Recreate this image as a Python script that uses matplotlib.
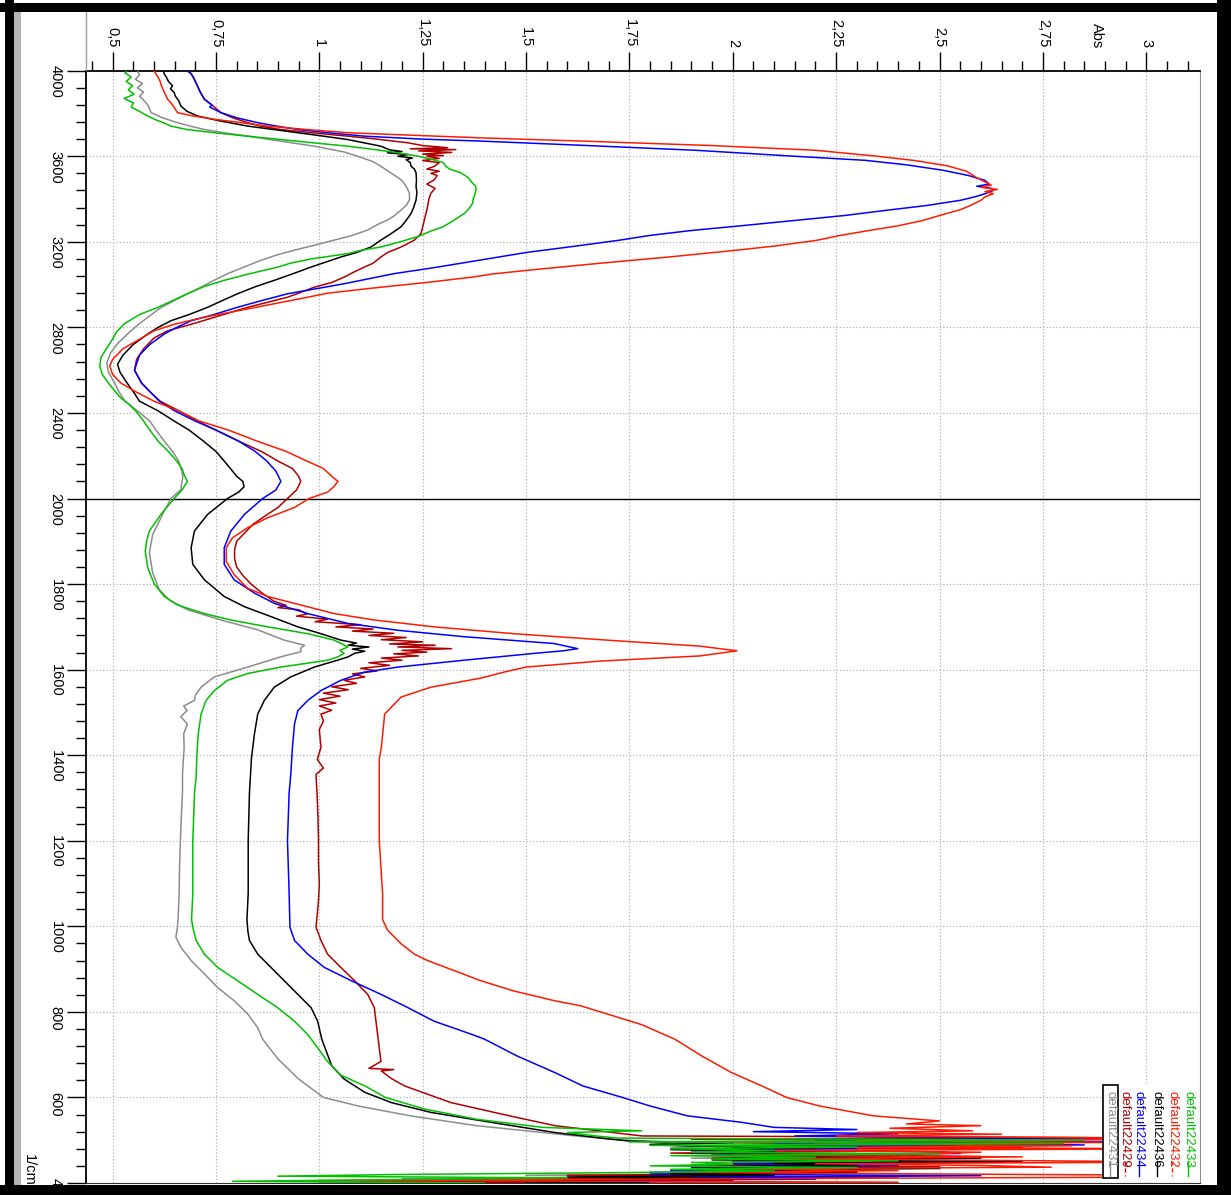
import numpy as np
import matplotlib.pyplot as plt
from matplotlib.ticker import FixedLocator
from matplotlib.lines import Line2D
from matplotlib.patches import Rectangle

plt.rcParams['font.family'] = ['Liberation Sans Narrow', 'Liberation Sans', 'DejaVu Sans']

# ==============================
# SPECTRA: (wavenumber 1/cm, absorbance)
# ==============================
green = [(4000, 0.535), (3990, 0.530), (3970, 0.545), (3950, 0.533), (3930, 0.548), (3910, 0.538), (3890, 0.552),
         (3870, 0.528), (3850, 0.550), (3830, 0.545), (3810, 0.565), (3788, 0.585), (3770, 0.605), (3755, 0.625),
         (3741, 0.641), (3725, 0.680), (3710, 0.746), (3695, 0.820), (3678, 0.907), (3660, 1.000), (3647, 1.069),
         (3630, 1.140), (3616, 1.190), (3600, 1.240), (3584, 1.275), (3570, 1.300), (3555, 1.305), (3540, 1.315),
         (3522, 1.343), (3500, 1.360), (3480, 1.368), (3460, 1.378), (3443, 1.379), (3420, 1.376), (3400, 1.372),
         (3380, 1.371), (3350, 1.360), (3333, 1.351), (3300, 1.325), (3271, 1.300), (3250, 1.270), (3224, 1.238),
         (3200, 1.195), (3176, 1.149), (3160, 1.100), (3145, 1.069), (3120, 0.980), (3100, 0.930), (3082, 0.900),
         (3050, 0.830), (3020, 0.770), (2990, 0.720), (2957, 0.680), (2925, 0.645), (2894, 0.610), (2860, 0.565),
         (2816, 0.528), (2780, 0.510), (2745, 0.500), (2700, 0.485), (2660, 0.472), (2620, 0.469), (2580, 0.475),
         (2540, 0.490), (2503, 0.505), (2470, 0.520), (2440, 0.540), (2400, 0.560), (2362, 0.575), (2320, 0.590),
         (2268, 0.610), (2220, 0.635), (2175, 0.655), (2140, 0.668), (2110, 0.673), (2080, 0.681), (2040, 0.668),
         (2000, 0.649), (1963, 0.617), (1924, 0.589), (1900, 0.582), (1877, 0.579), (1838, 0.585), (1800, 0.601),
         (1771, 0.625), (1751, 0.657), (1731, 0.722), (1716, 0.786), (1700, 0.875), (1684, 0.972), (1669, 1.036),
         (1660, 1.055), (1653, 1.069), (1645, 1.050), (1638, 1.060), (1630, 1.045), (1622, 1.020), (1606, 0.907),
         (1591, 0.827), (1575, 0.778), (1551, 0.746), (1528, 0.726), (1496, 0.714), (1449, 0.707), (1402, 0.704),
         (1347, 0.702), (1312, 0.698), (1250, 0.696), (1200, 0.694), (1140, 0.694), (1077, 0.694), (1016, 0.691),
         (998, 0.694), (967, 0.702), (935, 0.722), (904, 0.754), (873, 0.802), (841, 0.851), (810, 0.899),
         (778, 0.940), (747, 0.972), (716, 0.996), (684, 1.020), (653, 1.050), (627, 1.110), (600, 1.160),
         (573, 1.254), (549, 1.380), (530, 1.540), (522, 1.780), (518, 1.600), (510, 1.670), (505, 1.720),
         (500, 2.850), (496, 1.750), (492, 2.800), (488, 1.800), (484, 2.300), (480, 1.850), (476, 2.100),
         (472, 1.900), (468, 2.500), (464, 1.850), (460, 2.200), (456, 1.950), (452, 2.400), (448, 1.900),
         (444, 2.000), (440, 1.800), (436, 2.300), (432, 1.850), (428, 2.100), (424, 1.700), (420, 1.200),
         (416, 0.900), (412, 1.600), (408, 1.200), (404, 0.790), (400, 1.400)]

grey = [(4000, 0.560), (3980, 0.565), (3960, 0.555), (3940, 0.572), (3920, 0.560), (3900, 0.575), (3880, 0.565),
        (3867, 0.573), (3840, 0.585), (3820, 0.590), (3804, 0.593), (3780, 0.620), (3757, 0.657), (3740, 0.690),
        (3725, 0.722), (3710, 0.770), (3694, 0.827), (3670, 0.910), (3647, 0.988), (3620, 1.060), (3600, 1.093),
        (3575, 1.130), (3553, 1.149), (3520, 1.175), (3490, 1.198), (3460, 1.210), (3427, 1.218), (3396, 1.218),
        (3370, 1.210), (3349, 1.198), (3320, 1.180), (3302, 1.165), (3280, 1.140), (3255, 1.117), (3230, 1.080),
        (3208, 1.036), (3185, 0.990), (3161, 0.940), (3140, 0.900), (3114, 0.859), (3080, 0.815), (3051, 0.778),
        (3020, 0.745), (2988, 0.714), (2960, 0.685), (2925, 0.649), (2890, 0.615), (2847, 0.585), (2810, 0.560),
        (2769, 0.536), (2720, 0.510), (2680, 0.495), (2633, 0.486), (2590, 0.490), (2540, 0.505), (2500, 0.515),
        (2455, 0.530), (2410, 0.560), (2362, 0.590), (2320, 0.605), (2268, 0.625), (2220, 0.645), (2175, 0.660),
        (2130, 0.667), (2100, 0.670), (2080, 0.668), (2041, 0.665), (2000, 0.641), (1963, 0.621), (1916, 0.597),
        (1873, 0.589), (1826, 0.597), (1787, 0.613), (1763, 0.637), (1740, 0.681), (1716, 0.762), (1693, 0.851),
        (1669, 0.915), (1657, 0.964), (1650, 0.955), (1642, 0.956), (1630, 0.907), (1606, 0.827), (1583, 0.746),
        (1559, 0.714), (1540, 0.700), (1528, 0.698), (1515, 0.672), (1504, 0.680), (1490, 0.665), (1473, 0.681),
        (1450, 0.672), (1418, 0.673), (1355, 0.669), (1312, 0.669), (1250, 0.666), (1200, 0.664), (1140, 0.662),
        (1077, 0.661), (1030, 0.659), (998, 0.657), (975, 0.653), (951, 0.665), (920, 0.690), (889, 0.722),
        (857, 0.754), (826, 0.794), (795, 0.827), (763, 0.851), (736, 0.863), (690, 0.900), (643, 0.950),
        (600, 1.010), (580, 1.094), (557, 1.220), (534, 1.380), (518, 1.540), (510, 1.620), (503, 1.700),
        (498, 1.780), (494, 1.850), (490, 1.800), (486, 1.950), (482, 1.850), (478, 2.000), (474, 1.900),
        (470, 2.100), (466, 1.950), (462, 2.200), (458, 1.900), (454, 2.300), (450, 2.000), (446, 2.400),
        (442, 1.950), (438, 2.200), (434, 1.900), (430, 2.100), (426, 1.800), (422, 2.000), (418, 1.500),
        (414, 1.900), (410, 1.200), (406, 1.700), (402, 1.000), (400, 1.300)]

black = [(4000, 0.623), (3985, 0.625), (3970, 0.630), (3950, 0.635), (3930, 0.645), (3915, 0.640), (3898, 0.649),
         (3880, 0.652), (3860, 0.660), (3835, 0.665), (3810, 0.680), (3788, 0.706), (3765, 0.760), (3741, 0.827),
         (3725, 0.890), (3710, 0.948), (3694, 1.010), (3678, 1.069), (3660, 1.115), (3647, 1.149), (3630, 1.170),
         (3622, 1.200), (3616, 1.165), (3608, 1.215), (3600, 1.190), (3592, 1.225), (3584, 1.210), (3570, 1.220),
         (3553, 1.222), (3540, 1.230), (3522, 1.234), (3490, 1.235), (3459, 1.234), (3430, 1.236), (3396, 1.234),
         (3360, 1.228), (3333, 1.222), (3300, 1.210), (3271, 1.198), (3240, 1.175), (3208, 1.149), (3176, 1.125),
         (3150, 1.090), (3129, 1.052), (3105, 1.015), (3082, 0.980), (3050, 0.935), (3020, 0.891), (2990, 0.845),
         (2957, 0.802), (2925, 0.765), (2894, 0.730), (2860, 0.685), (2831, 0.641), (2800, 0.610), (2769, 0.585),
         (2720, 0.550), (2670, 0.525), (2628, 0.512), (2590, 0.518), (2540, 0.535), (2500, 0.550), (2455, 0.565),
         (2410, 0.610), (2362, 0.649), (2320, 0.685), (2268, 0.720), (2220, 0.750), (2175, 0.770), (2140, 0.785),
         (2104, 0.800), (2080, 0.815), (2055, 0.818), (2030, 0.805), (2000, 0.778), (1963, 0.730), (1924, 0.698),
         (1885, 0.690), (1846, 0.694), (1810, 0.722), (1771, 0.770), (1747, 0.819), (1724, 0.883), (1700, 0.948),
         (1684, 1.004), (1669, 1.052), (1662, 1.090), (1657, 1.070), (1653, 1.120), (1648, 1.080), (1643, 1.110),
         (1638, 1.085), (1630, 1.070), (1622, 1.044), (1606, 0.988), (1583, 0.931), (1559, 0.891), (1528, 0.867),
         (1496, 0.851), (1449, 0.843), (1394, 0.836), (1312, 0.831), (1200, 0.828), (1077, 0.828), (1016, 0.825),
         (990, 0.827), (967, 0.831), (935, 0.851), (904, 0.883), (873, 0.915), (841, 0.948), (810, 0.980),
         (778, 0.996), (736, 1.006), (700, 1.020), (674, 1.030), (643, 1.060), (612, 1.110), (588, 1.174),
         (565, 1.270), (542, 1.414), (518, 1.570), (503, 1.700), (498, 1.750), (494, 2.000), (490, 1.800),
         (486, 1.900), (482, 2.200), (478, 1.850), (474, 2.100), (470, 1.900), (466, 2.350), (462, 2.000),
         (458, 2.600), (454, 1.950), (450, 2.700), (446, 2.100), (442, 2.300), (438, 1.900), (434, 2.500),
         (430, 2.000), (426, 2.300), (422, 1.850), (418, 2.100), (414, 1.600), (410, 2.000), (406, 1.300),
         (402, 1.900), (400, 1.500)]

blue = [(4000, 0.680), (3985, 0.690), (3970, 0.695), (3950, 0.700), (3930, 0.705), (3900, 0.712), (3867, 0.722),
        (3840, 0.740), (3830, 0.735), (3804, 0.762), (3780, 0.800), (3757, 0.851), (3740, 0.900), (3725, 0.948),
        (3710, 1.020), (3694, 1.109), (3680, 1.250), (3671, 1.390), (3650, 1.650), (3628, 1.910), (3600, 2.150),
        (3581, 2.320), (3560, 2.420), (3534, 2.510), (3510, 2.570), (3487, 2.610), (3470, 2.620), (3460, 2.590),
        (3450, 2.625), (3440, 2.630), (3425, 2.610), (3410, 2.585), (3394, 2.550), (3370, 2.470), (3347, 2.370),
        (3323, 2.270), (3300, 2.150), (3275, 2.020), (3253, 1.900), (3230, 1.800), (3206, 1.720), (3180, 1.620),
        (3150, 1.500), (3112, 1.380), (3080, 1.280), (3051, 1.180), (3004, 1.060), (2957, 0.923), (2925, 0.860),
        (2894, 0.802), (2860, 0.745), (2831, 0.690), (2800, 0.655), (2769, 0.625), (2720, 0.590), (2670, 0.565),
        (2600, 0.553), (2540, 0.570), (2500, 0.590), (2455, 0.613), (2410, 0.650), (2362, 0.700), (2320, 0.750),
        (2268, 0.805), (2220, 0.845), (2175, 0.873), (2128, 0.895), (2080, 0.907), (2040, 0.895), (2000, 0.863),
        (1963, 0.819), (1924, 0.786), (1885, 0.770), (1846, 0.770), (1810, 0.794), (1779, 0.843), (1755, 0.891),
        (1731, 0.972), (1708, 1.069), (1692, 1.190), (1677, 1.350), (1661, 1.568), (1652, 1.610), (1649, 1.625),
        (1644, 1.590), (1638, 1.520), (1622, 1.350), (1606, 1.190), (1594, 1.109), (1575, 1.052), (1551, 1.004),
        (1528, 0.972), (1504, 0.948), (1473, 0.940), (1418, 0.935), (1355, 0.931), (1312, 0.927), (1200, 0.923),
        (1077, 0.927), (998, 0.929), (967, 0.940), (935, 0.972), (904, 1.012), (873, 1.077), (841, 1.149),
        (810, 1.214), (778, 1.278), (747, 1.370), (736, 1.400), (716, 1.440), (697, 1.478), (658, 1.570),
        (627, 1.637), (600, 1.733), (580, 1.800), (557, 1.890), (542, 2.020), (530, 2.100), (525, 2.300),
        (520, 2.050), (515, 2.400), (510, 2.150), (506, 2.600), (504, 3.120), (501, 2.200), (497, 2.900),
        (493, 2.100), (489, 2.850), (485, 2.000), (481, 2.300), (477, 1.900), (473, 2.500), (469, 2.550),
        (465, 1.950), (461, 2.400), (457, 2.000), (453, 2.300), (449, 2.650), (445, 2.000), (441, 2.400),
        (437, 1.900), (433, 2.200), (429, 1.850), (425, 2.300), (421, 1.800), (417, 2.600), (413, 1.900),
        (409, 2.200), (405, 1.300), (401, 1.900), (400, 1.600)]

red = [(4000, 0.600), (3985, 0.605), (3970, 0.610), (3950, 0.615), (3930, 0.618), (3900, 0.625), (3867, 0.633),
       (3840, 0.645), (3804, 0.657), (3790, 0.690), (3773, 0.746), (3757, 0.810), (3741, 0.875), (3725, 0.970),
       (3710, 1.069), (3700, 1.200), (3686, 1.390), (3670, 1.650), (3650, 1.950), (3628, 2.200), (3600, 2.350),
       (3580, 2.440), (3555, 2.520), (3530, 2.565), (3500, 2.590), (3480, 2.610), (3465, 2.625), (3455, 2.600),
       (3445, 2.640), (3435, 2.610), (3425, 2.630), (3410, 2.610), (3394, 2.600), (3370, 2.575), (3350, 2.550),
       (3323, 2.500), (3300, 2.460), (3275, 2.400), (3253, 2.330), (3230, 2.260), (3206, 2.200), (3180, 2.100),
       (3159, 2.000), (3130, 1.850), (3100, 1.680), (3070, 1.520), (3050, 1.420), (3035, 1.370), (3010, 1.260),
       (2988, 1.149), (2960, 1.020), (2941, 0.972), (2910, 0.890), (2880, 0.810), (2847, 0.720), (2815, 0.650),
       (2784, 0.600), (2750, 0.570), (2700, 0.525), (2650, 0.500), (2620, 0.493), (2580, 0.500), (2540, 0.520),
       (2500, 0.555), (2455, 0.600), (2410, 0.660), (2362, 0.710), (2320, 0.780), (2268, 0.850), (2220, 0.920),
       (2175, 0.970), (2140, 1.010), (2104, 1.030), (2080, 1.045), (2055, 1.035), (2030, 1.020), (2000, 0.975),
       (1979, 0.940), (1955, 0.875), (1932, 0.827), (1908, 0.790), (1885, 0.775), (1853, 0.775), (1822, 0.794),
       (1790, 0.827), (1771, 0.875), (1747, 0.972), (1731, 1.036), (1716, 1.133), (1700, 1.278), (1684, 1.470),
       (1667, 1.726), (1655, 1.920), (1644, 2.010), (1632, 1.920), (1620, 1.680), (1606, 1.500), (1595, 1.450),
       (1580, 1.390), (1559, 1.270), (1536, 1.198), (1496, 1.158), (1418, 1.150), (1391, 1.145), (1300, 1.145),
       (1200, 1.145), (1077, 1.153), (1016, 1.153), (991, 1.165), (959, 1.198), (935, 1.230), (920, 1.262),
       (896, 1.327), (873, 1.390), (849, 1.470), (826, 1.569), (814, 1.633), (800, 1.680), (770, 1.780),
       (736, 1.860), (697, 1.925), (658, 1.997), (627, 2.070), (600, 2.130), (580, 2.210), (557, 2.340),
       (545, 2.500), (538, 2.420), (534, 2.600), (528, 2.380), (522, 2.580), (518, 2.300), (514, 2.650),
       (510, 2.250), (506, 2.850), (503, 3.120), (499, 2.300), (495, 2.950), (491, 2.200), (487, 2.820),
       (483, 2.300), (480, 3.120), (476, 2.100), (472, 2.600), (469, 2.500), (465, 2.000), (461, 2.700),
       (457, 2.100), (453, 2.600), (449, 3.120), (445, 2.200), (441, 2.600), (437, 2.770), (433, 2.000),
       (429, 2.400), (425, 1.900), (421, 2.500), (418, 3.120), (414, 3.120), (410, 2.000), (406, 1.000),
       (402, 2.400), (400, 1.800)]

dark_red = [(4000, 0.685), (3985, 0.690), (3970, 0.695), (3950, 0.700), (3930, 0.705), (3900, 0.712), (3867, 0.722),
            (3840, 0.740), (3804, 0.762), (3780, 0.790), (3757, 0.827), (3740, 0.860), (3725, 0.907), (3710, 0.980),
            (3694, 1.069), (3680, 1.140), (3663, 1.214), (3650, 1.250), (3640, 1.310), (3635, 1.220), (3631, 1.330),
            (3625, 1.240), (3618, 1.320), (3610, 1.250), (3603, 1.300), (3600, 1.260), (3590, 1.290), (3580, 1.250),
            (3570, 1.290), (3553, 1.278), (3540, 1.260), (3530, 1.290), (3520, 1.270), (3510, 1.285), (3490, 1.278),
            (3470, 1.260), (3450, 1.280), (3427, 1.270), (3400, 1.265), (3365, 1.262), (3302, 1.254), (3239, 1.246),
            (3208, 1.230), (3176, 1.198), (3150, 1.165), (3129, 1.149), (3100, 1.130), (3082, 1.109), (3060, 1.085),
            (3035, 1.060), (3010, 1.030), (2988, 0.988), (2960, 0.950), (2941, 0.923), (2920, 0.880), (2894, 0.827),
            (2870, 0.785), (2847, 0.746), (2820, 0.700), (2784, 0.633), (2750, 0.600), (2700, 0.575), (2650, 0.558),
            (2600, 0.553), (2540, 0.570), (2500, 0.590), (2455, 0.615), (2410, 0.660), (2362, 0.705), (2320, 0.750),
            (2268, 0.805), (2220, 0.860), (2175, 0.900), (2140, 0.935), (2104, 0.950), (2080, 0.955), (2040, 0.945),
            (2000, 0.923), (1979, 0.900), (1960, 0.870), (1940, 0.840), (1920, 0.820), (1900, 0.800), (1880, 0.795),
            (1860, 0.795), (1840, 0.800), (1820, 0.815), (1800, 0.835), (1780, 0.860), (1760, 0.890), (1750, 0.920),
            (1745, 0.900), (1740, 0.950), (1730, 0.970), (1725, 0.945), (1718, 1.020), (1712, 0.990), (1705, 1.100),
            (1700, 1.040), (1695, 1.130), (1690, 1.080), (1685, 1.180), (1680, 1.120), (1675, 1.210), (1670, 1.150),
            (1665, 1.250), (1660, 1.170), (1657, 1.280), (1653, 1.190), (1649, 1.320), (1645, 1.200), (1641, 1.260),
            (1637, 1.180), (1632, 1.240), (1627, 1.150), (1622, 1.200), (1616, 1.120), (1610, 1.170), (1603, 1.100),
            (1597, 1.140), (1590, 1.080), (1583, 1.110), (1575, 1.060), (1568, 1.090), (1560, 1.030), (1553, 1.070),
            (1545, 1.010), (1538, 1.050), (1530, 1.000), (1522, 1.040), (1515, 1.000), (1505, 1.030), (1496, 1.004),
            (1480, 1.010), (1460, 1.000), (1418, 1.004), (1390, 0.995), (1370, 1.010), (1355, 0.992), (1300, 0.995),
            (1250, 0.997), (1200, 0.998), (1150, 0.998), (1100, 1.000), (1060, 0.998), (1037, 0.996), (998, 0.992),
            (967, 1.004), (935, 1.020), (904, 1.052), (873, 1.085), (841, 1.117), (810, 1.133), (778, 1.137),
            (747, 1.141), (716, 1.145), (684, 1.149), (668, 1.120), (665, 1.180), (662, 1.150), (645, 1.173),
            (627, 1.206), (588, 1.318), (557, 1.460), (534, 1.570), (510, 1.780), (506, 2.900), (502, 1.900),
            (498, 2.800), (494, 2.000), (490, 2.400), (486, 1.900), (482, 2.700), (478, 2.000), (474, 2.300),
            (470, 1.850), (466, 2.200), (462, 2.600), (458, 1.950), (454, 2.400), (450, 2.000), (446, 2.300),
            (442, 1.900), (438, 2.500), (434, 1.950), (430, 2.300), (426, 2.000), (422, 2.200), (418, 1.600),
            (414, 2.400), (410, 1.400), (406, 2.000), (402, 1.100), (400, 1.500)]

# legend order (right to left in the picture) and colours
names = ['default22433', 'default22432', 'default22436', 'default22434', 'default22429', 'default22431']
colors = ['#00c000', '#ff1a00', '#000000', '#0000ff', '#b00000', '#8c8c8c']
draw_order = [(grey, '#8c8c8c'), (dark_red, '#b00000'), (blue, '#0000ff'),
              (black, '#000000'), (red, '#ff1a00'), (green, '#00c000')]

abs_ticks = [0.5, 0.75, 1.0, 1.25, 1.5, 1.75, 2.0, 2.25, 2.5, 2.75, 3.0]
abs_labels = ['0,5', '0,75', '1', '1,25', '1,5', '1,75', '2', '2,25', '2,5', '2,75', '3']
wn_ticks = [4000, 3600, 3200, 2800, 2400, 2000, 1800, 1600, 1400, 1200, 1000, 800, 600, 400]


# wavenumber axis: 400 1/cm per division above 2000, 200 below (x2 expansion)
def fwd(w):
    w = np.asarray(w, dtype=float)
    return np.where(w >= 2000, (w - 2000) / 400.0, (w - 2000) / 200.0)


def inv(p):
    p = np.asarray(p, dtype=float)
    return np.where(p >= 0, 2000 + p * 400.0, 2000 + p * 200.0)


W, H = 1231, 1195
fig = plt.figure(figsize=(W / 100, H / 100), dpi=100)
ax = fig.add_axes([86 / W, 1 - 1183 / H, (1200 - 86) / W, (1183 - 70.7) / H])

for pts, c in draw_order:
    wn, ab = np.array(pts).T
    ax.plot(ab, wn, color=c, lw=1.1, zorder=3)

ax.set_yscale('function', functions=(fwd, inv))
ax.set_ylim(400, 4000)
ax.set_xlim(0.4357, 3.130)

minor_y = list(np.arange(2080, 4000, 80)) + list(np.arange(440, 2000, 40))
minor_x = list(np.arange(0.45, 3.11, 0.05))
ax.yaxis.set_major_locator(FixedLocator(wn_ticks))
ax.yaxis.set_minor_locator(FixedLocator(minor_y))
ax.set_yticklabels([str(t) for t in wn_ticks])
ax.xaxis.tick_top()
ax.xaxis.set_major_locator(FixedLocator(abs_ticks))
ax.xaxis.set_minor_locator(FixedLocator(minor_x))
ax.set_xticklabels(abs_labels)

ax.tick_params(which='major', direction='out', length=14, width=1.0, colors='black',
               labelsize=10.5, pad=3)
ax.tick_params(which='minor', direction='out', length=7.5, width=1.0, colors='black')
for lab in ax.get_xticklabels() + ax.get_yticklabels():
    lab.set_rotation(-90)

ax.grid(True, which='major', linestyle=(0, (1, 2)), color='#a8a8a8', lw=0.8, zorder=0)
ax.axhline(2000, color='black', lw=1.0, zorder=2)

ax.spines['top'].set_linewidth(1.3)
ax.spines['left'].set_linewidth(1.3)
ax.spines['right'].set_color('#909090')
ax.spines['bottom'].set_color('#303030')

fig.text(1097 / W, 1 - 36 / H, 'Abs', rotation=-90, ha='center', va='center', fontsize=10.5)
fig.text(29 / W, 1 - 1170 / H, '1/cm', rotation=-90, ha='center', va='center', fontsize=10.5)

# legend (rotated, bottom right)
leg_x = [1188, 1172, 1157, 1139, 1125, 1110]
leg_ls = ['-', (0, (3, 2)), '-', '-', (0, (3, 2)), '-']
fig.patches.append(Rectangle((1102 / W, 1 - 1181 / H), 97 / W, 96 / H, transform=fig.transFigure,
                             facecolor='white', edgecolor='none', zorder=5))
fig.patches.append(Rectangle((1103 / W, 1 - 1178 / H), 15 / W, 93 / H, transform=fig.transFigure,
                             facecolor='none', edgecolor='black', lw=1.2, zorder=6))
for x, n, c, ls in zip(leg_x, names, colors, leg_ls):
    fig.text(x / W, 1 - 1091 / H, n, rotation=-90, ha='center', va='top', color=c,
             fontsize=9.5, zorder=7)
    fig.lines.append(Line2D([x / W, x / W], [1 - 1161 / H, 1 - 1176 / H], transform=fig.transFigure,
                            color=c, lw=1.0, ls=ls, zorder=7))

# outer frame of the screenshot
frame = [(0, 3, W, 9), (5, 0, 9, H), (1217, 0, 14, H), (0, 1185, W, 10)]
for x0, y0, w, h in frame:
    fig.patches.append(Rectangle((x0 / W, 1 - (y0 + h) / H), w / W, h / H, transform=fig.transFigure,
                                 facecolor='black', edgecolor='none', zorder=10))
fig.patches.append(Rectangle((14 / W, 1 - 1185 / H), 7 / W, (1185 - 12) / H, transform=fig.transFigure,
                             facecolor='#b4b4b4', edgecolor='none', zorder=10))
fig.lines.append(Line2D([86 / W, 86 / W], [1 - 12 / H, 1 - 70 / H], transform=fig.transFigure,
                        color='#a0a0a0', lw=1.0))

fig.savefig('out.png', dpi=100)
